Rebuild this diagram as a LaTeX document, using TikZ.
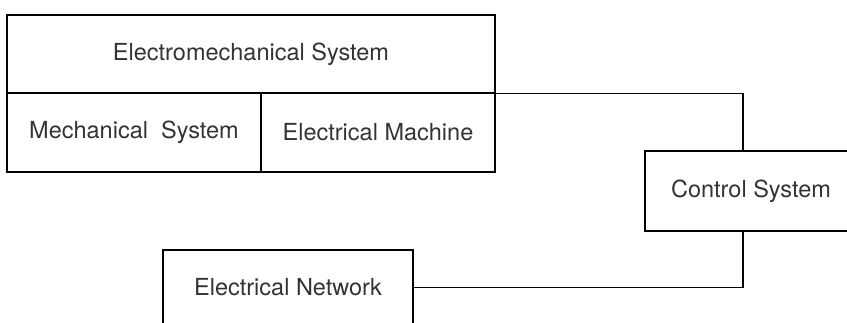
\documentclass[tikz,border=0pt]{standalone}
\usepackage{fontspec}
\setmainfont{TeX Gyre Heros}
\begin{document}
\begin{tikzpicture}[x=1pt,y=-1pt,
  blk/.style={draw, line width=1.5pt, rectangle, inner sep=0pt, font=\fontsize{23.5}{28}\selectfont, text=black!80},
  wire/.style={line width=1.5pt}]
\useasboundingbox (0,0) rectangle (847,323);
\node[blk, minimum width=488, minimum height=78] (em) at (251,54) {Electromechanical System};
\node[blk, minimum width=254, minimum height=79] (mech) at (134,132.5) {Mechanical\ \ System};
\node[blk, minimum width=234, minimum height=79] (mach) at (378,132.5) {Electrical Machine};
\node[blk, minimum width=212, minimum height=80] (ctrl) at (751,191) {Control System};
\node[blk, minimum width=250, minimum height=75] (net) at (288,287.5) {Electrical Network};
\draw[wire] (em.south east) -| ([xshift=-8pt]ctrl.north);
\draw[wire] ([xshift=-8pt]ctrl.south) |- (net.east);
\end{tikzpicture}
\end{document}
